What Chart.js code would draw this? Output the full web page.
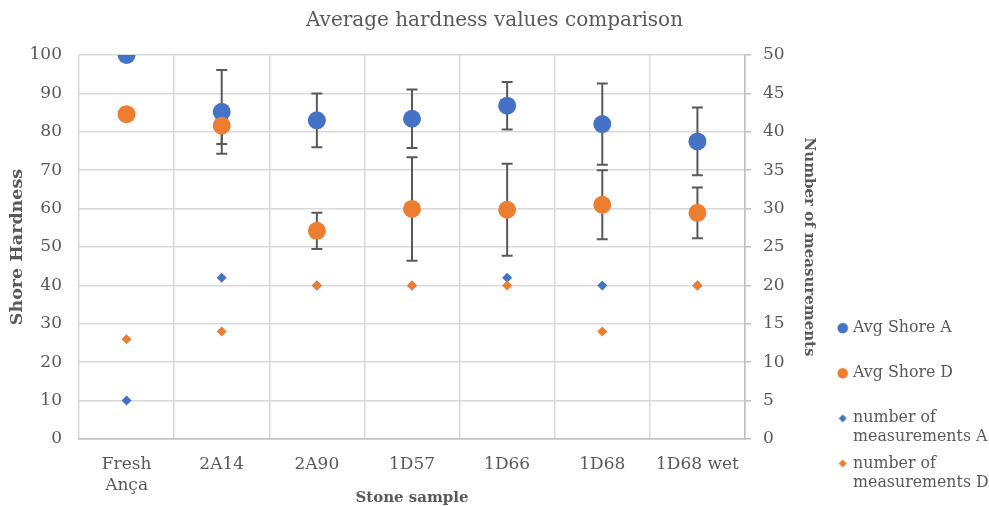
<!DOCTYPE html>
<html>
<head>
<meta charset="utf-8">
<script src="https://cdn.jsdelivr.net/npm/chart.js@4.4.1/dist/chart.umd.min.js"></script>
<style>
html,body{margin:0;padding:0;background:#ffffff;}
#wrap{width:989px;height:507px;position:relative;}
</style>
</head>
<body>
<div id="wrap"><canvas id="c"></canvas></div>
<script>
// ---- data ----
const categories = [["Fresh", "Ança"], "2A14", "2A90", "1D57", "1D66", "1D68", "1D68 wet"];
const avgShoreA = [100, 85.2, 83.0, 83.4, 86.8, 82.0, 77.5];
const errShoreA = [null, 10.9, 7.0, 7.6, 6.2, 10.6, 8.8];
const avgShoreD = [84.6, 81.6, 54.2, 59.9, 59.7, 61.0, 58.9];
const errShoreD = [null, 4.8, 4.7, 13.5, 12.0, 9.0, 6.6];
const countA = [5, 21, 20, 20, 21, 20, 20];
const countD = [13, 14, 20, 20, 20, 14, 20];
const seriesNames = ["Avg Shore A", "Avg Shore D", "number of measurements A", "number of measurements D"];
const legendLines = [["Avg Shore A", ""], ["Avg Shore D", ""], ["number of", "measurements A"], ["number of", "measurements D"]];
const hardnessRange = [0, 100, 10];
const countRange = [0, 50, 5];

const BLUE = '#4472C4', ORANGE = '#ED7D31', GRID = '#d9d9d9', AXIS = '#bfbfbf', TXT = '#595959';
const FONT = "'DejaVu Serif', 'Liberation Serif', serif";

function marker(kind, color) {
  const c = document.createElement('canvas');
  const s = kind === 'circle' ? 12 : 9;
  c.width = s; c.height = s;
  const g = c.getContext('2d');
  g.fillStyle = color;
  g.beginPath();
  if (kind === 'circle') { g.arc(s/2, s/2, 5.3, 0, Math.PI*2); }
  else { g.moveTo(s/2, 0.5); g.lineTo(s-0.5, s/2); g.lineTo(s/2, s-0.5); g.lineTo(0.5, s/2); g.closePath(); }
  g.fill();
  return c;
}

const errorBars = {
  id: 'errorBars',
  beforeDatasetsDraw(chart) {
    const ctx = chart.ctx;
    chart.data.datasets.forEach((ds, di) => {
      if (!ds.errors) return;
      const meta = chart.getDatasetMeta(di);
      const ys = chart.scales[meta.yAxisID];
      ctx.save();
      ctx.strokeStyle = '#595959';
      ctx.lineWidth = 2;
      meta.data.forEach((pt, i) => {
        const e = ds.errors[i];
        if (e == null) return;
        const v = ds.data[i];
        const x = pt.x;
        const yt = ys.getPixelForValue(v + e), yb = ys.getPixelForValue(v - e);
        ctx.beginPath();
        ctx.moveTo(x, yt); ctx.lineTo(x, yb);
        ctx.moveTo(x - 5.5, yt); ctx.lineTo(x + 5.5, yt);
        ctx.moveTo(x - 5.5, yb); ctx.lineTo(x + 5.5, yb);
        ctx.stroke();
      });
      ctx.restore();
    });
  }
};

const legendMarkers = [marker('circle', BLUE), marker('circle', ORANGE), marker('diamond', BLUE), marker('diamond', ORANGE)];

new Chart(document.getElementById('c'), {
  type: 'line',
  data: {
    labels: categories,
    datasets: [
      { label: seriesNames[0], data: avgShoreA, errors: errShoreA, yAxisID: 'y', order: 4,
        showLine: false, pointStyle: 'circle', pointRadius: 9, pointBorderWidth: 0,
        backgroundColor: BLUE, borderColor: BLUE },
      { label: seriesNames[1], data: avgShoreD, errors: errShoreD, yAxisID: 'y', order: 3,
        showLine: false, pointStyle: 'circle', pointRadius: 9, pointBorderWidth: 0,
        backgroundColor: ORANGE, borderColor: ORANGE },
      { label: seriesNames[2], data: countA, yAxisID: 'y2', order: 2,
        showLine: false, pointStyle: 'rectRot', pointRadius: 5, pointBorderWidth: 0,
        backgroundColor: BLUE, borderColor: BLUE },
      { label: seriesNames[3], data: countD, yAxisID: 'y2', order: 1,
        showLine: false, pointStyle: 'rectRot', pointRadius: 5, pointBorderWidth: 0,
        backgroundColor: ORANGE, borderColor: ORANGE }
    ]
  },
  options: {
    responsive: true,
    maintainAspectRatio: false,
    animation: false,
    events: [],
    layout: { padding: 0 },
    plugins: {
      title: {
        display: true,
        text: 'Average hardness values comparison',
        color: TXT,
        font: { family: FONT, size: 20, weight: 'normal', lineHeight: 1.2 },
        padding: { top: 9, bottom: 22 }
      },
      legend: {
        position: 'right',
        align: 'start',
        maxWidth: 156,
        title: { display: true, text: '', font: { size: 1, lineHeight: 1 }, padding: { top: 312, bottom: 0 } },
        labels: {
          usePointStyle: true,
          boxWidth: 5,
          boxHeight: 7,
          padding: 7.2,
          color: TXT,
          font: { family: FONT, size: 15.8, lineHeight: 1.2 },
          sort: (a, b) => a.datasetIndex - b.datasetIndex,
          generateLabels(chart) {
            const items = Chart.defaults.plugins.legend.labels.generateLabels(chart);
            items.forEach(it => {
              it.text = legendLines[it.datasetIndex];
              it.pointStyle = legendMarkers[it.datasetIndex];
            });
            return items;
          }
        }
      },
      tooltip: { enabled: false }
    },
    scales: {
      x: {
        type: 'category',
        offset: true,
        grid: { offset: true, color: GRID, lineWidth: 1.5, drawTicks: false },
        border: { display: true, color: AXIS, width: 1.5 },
        ticks: { color: TXT, font: { family: FONT, size: 17, lineHeight: 1.24 }, padding: 15, maxRotation: 0, autoSkip: false },
        title: { display: true, text: 'Stone sample', color: TXT, font: { family: FONT, size: 15, weight: 'bold', lineHeight: 1.2 }, padding: { top: 0, bottom: 0 } },
        afterFit(s) { s.height = 68; }
      },
      y: {
        position: 'left',
        min: hardnessRange[0], max: hardnessRange[1],
        grid: { color: GRID, lineWidth: 1.5, drawTicks: false },
        border: { display: false },
        ticks: { stepSize: hardnessRange[2], color: TXT, font: { family: FONT, size: 17 }, padding: 17 },
        title: { display: true, text: 'Shore Hardness', color: TXT, font: { family: FONT, size: 17.5, weight: 'bold', lineHeight: 1.2 }, padding: { top: 6.5, bottom: 0 } },
        afterFit(s) { s.width = 79; }
      },
      y2: {
        position: 'right',
        min: countRange[0], max: countRange[1],
        grid: { drawOnChartArea: false, drawTicks: true, tickLength: 6, color: AXIS, lineWidth: 1.5 },
        border: { display: true, color: AXIS, width: 1.5 },
        ticks: { stepSize: countRange[2], color: TXT, font: { family: FONT, size: 17 }, padding: 12 },
        title: { display: true, text: 'Number of measurements', color: TXT, font: { family: FONT, size: 15, weight: 'bold', lineHeight: 1.2 }, padding: { top: 15, bottom: 0 } },
        afterFit(s) { s.width = 88; }
      }
    }
  },
  plugins: [errorBars]
});
</script>
</body>
</html>
